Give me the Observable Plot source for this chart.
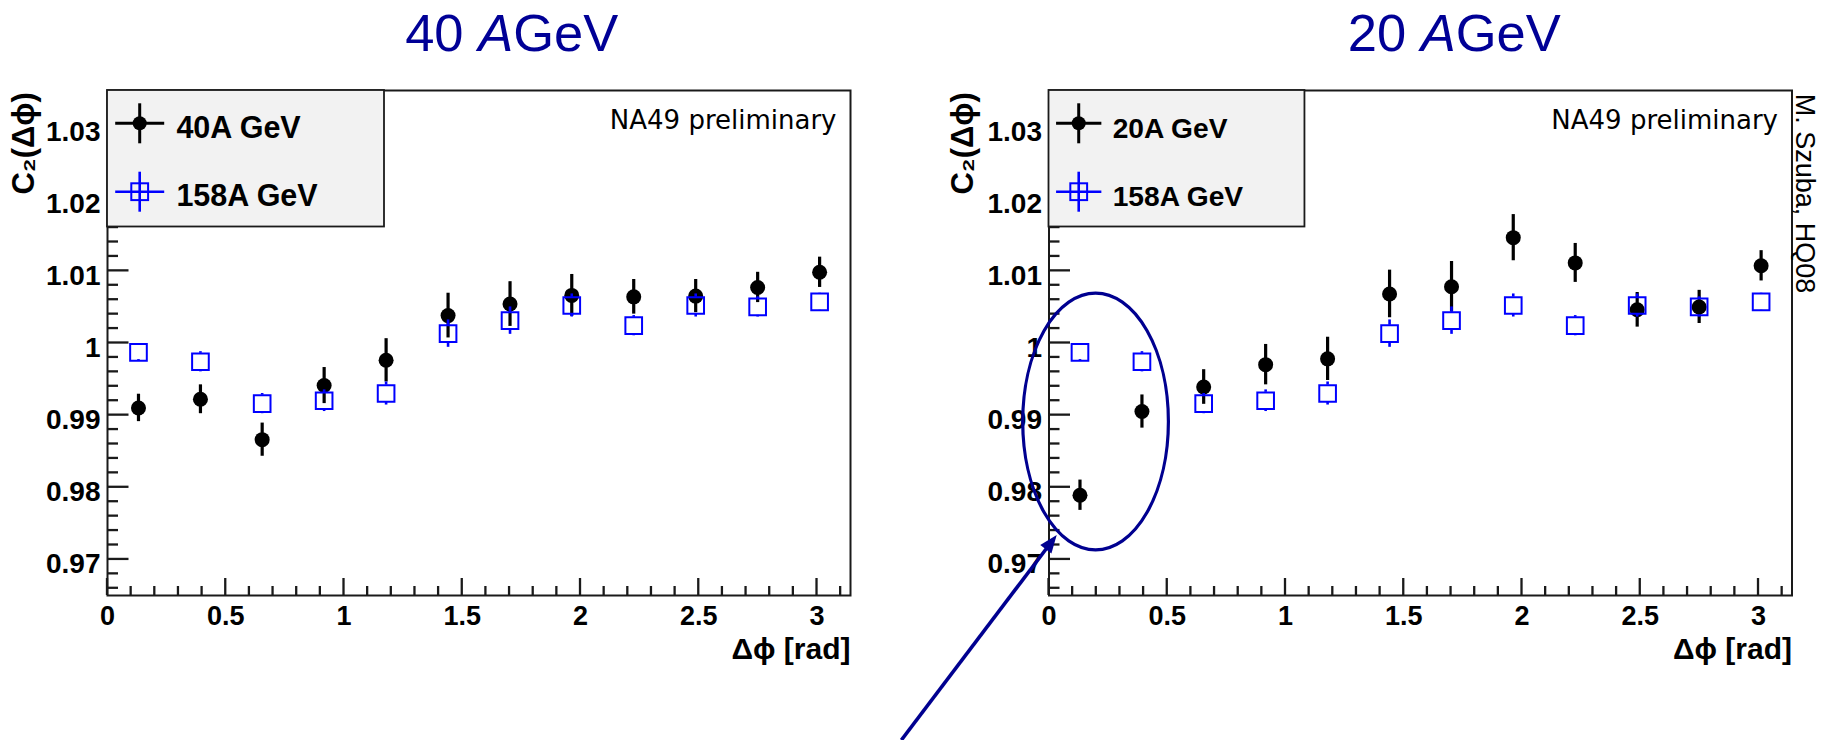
<!DOCTYPE html>
<html><head><meta charset="utf-8">
<script src="https://cdn.jsdelivr.net/npm/d3@7"></script>
<script src="https://cdn.jsdelivr.net/npm/@observablehq/plot@0.6"></script>
<style>
html,body{margin:0;padding:0;background:#fff;}
#wrap{position:relative;width:1824px;height:740px;overflow:hidden;background:#fff;}
.panel{position:absolute;top:0;width:912px;height:740px;}
.panel svg{max-width:none !important;}
.title{position:absolute;top:7.3px;font-family:'Liberation Sans',Arial,sans-serif;font-size:52.5px;line-height:1;color:#000096;white-space:nowrap;transform:translateX(-50%);}
</style></head>
<body><div id="wrap"></div>
<script>
// ---- data ----
const dphi = [0.131, 0.393, 0.654, 0.916, 1.178, 1.440, 1.702, 1.963, 2.225, 2.487, 2.749, 3.011];
const c2_40  = [0.9910, 0.9922, 0.9866, 0.9941, 0.9976, 1.0038, 1.0054, 1.0066, 1.0064, 1.0065, 1.0077, 1.0098];
const err_40 = [0.0019, 0.0020, 0.0023, 0.0025, 0.0030, 0.0031, 0.0031, 0.0029, 0.0024, 0.0023, 0.0021, 0.0021];
const c2_20  = [0.9789, 0.9905, 0.9939, 0.9970, 0.9978, 1.0068, 1.0078, 1.0146, 1.0111, 1.0046, 1.0050, 1.0107];
const err_20 = [0.0021, 0.0023, 0.0024, 0.0028, 0.0030, 0.0033, 0.0035, 0.0032, 0.0027, 0.0024, 0.0023, 0.0021];
const c2_158  = [0.9987, 0.9974, 0.9916, 0.9920, 0.9930, 1.0013, 1.0031, 1.0052, 1.0024, 1.0052, 1.0050, 1.0057];
const err_158 = [0.0010, 0.0014, 0.0014, 0.0015, 0.0016, 0.0019, 0.0019, 0.0016, 0.0014, 0.0016, 0.0014, 0.0012];

const yTickValues = [0.97, 0.98, 0.99, 1.00, 1.01, 1.02, 1.03];
const yTickLabels = ["0.97", "0.98", "0.99", "1", "1.01", "1.02", "1.03"];
const yMinorTicks = [0.966,0.968,0.972,0.974,0.976,0.978,0.982,0.984,0.986,0.988,0.992,0.994,0.996,0.998,1.002,1.004,1.006,1.008,1.012,1.014,1.016,1.018,1.022,1.024,1.026,1.028,1.032,1.034];
const xTickValues = [0, 0.5, 1, 1.5, 2, 2.5, 3];
const xTickLabels = ["0", "0.5", "1", "1.5", "2", "2.5", "3"];
const xMinorTicks = [0.1,0.2,0.3,0.4,0.6,0.7,0.8,0.9,1.1,1.2,1.3,1.4,1.6,1.7,1.8,1.9,2.1,2.2,2.3,2.4,2.6,2.7,2.8,2.9,3.1];

const panelTitles = ["40", "20"];
const legendLeft  = ["40A GeV", "158A GeV"];
const legendRight = ["20A GeV", "158A GeV"];
const yLabel = "C\u2082(\u0394\u03d5)";
const xLabel = "\u0394\u03d5 [rad]";
const stampText = "NA49 preliminary";
const authorText = "M. Szuba, HQ08";

// annotation (data units of the right panel)
const ellipseAnnot = {x: 0.199, y: 0.98905, rx: 0.308, ry: 0.0178};
const arrowAnnot = {x1: -0.622, y1: 0.9449, x2: 0.0347, y2: 0.97332};

const BLUE = "#0000ff";
const NAVY = "#000090";
const AXIS = "#1a1a1a";
const FONT = "'Liberation Sans', Arial, Helvetica, sans-serif";
const W = 912, H = 740, MT = 90, MB = 145;

function buildPanel(o) {
  const data = dphi.map((x, i) => ({x, y: o.vals[i], e: o.errs[i]}));
  const ref = dphi.map((x, i) => ({x, y: c2_158[i], e: err_158[i]}));
  const marks = [
    Plot.frame({stroke: AXIS, strokeWidth: 2}),
    Plot.axisY(yTickValues, {tickSize: 0, tickPadding: 7, dy: 5, fontSize: 28, fontWeight: "bold", fill: "black",
      tickFormat: d => yTickLabels[yTickValues.indexOf(d)], label: null}),
    Plot.axisX(xTickValues, {tickSize: 0, tickPadding: 10, fontSize: 27, fontWeight: "bold", fill: "black",
      tickFormat: d => xTickLabels[xTickValues.indexOf(d)], label: null}),
    Plot.ruleX(data, {x: "x", y1: d => d.y + d.e, y2: d => d.y - d.e, stroke: "black", strokeWidth: 3.2}),
    Plot.dot(data, {x: "x", y: "y", r: 7.5, fill: "black", stroke: "none"}),
    Plot.ruleX(ref, {x: "x", y1: d => d.y + d.e, y2: "y", insetBottom: 8.4, stroke: BLUE, strokeWidth: 2.6}),
    Plot.ruleX(ref, {x: "x", y1: "y", y2: d => d.y - d.e, insetTop: 8.4, stroke: BLUE, strokeWidth: 2.6}),
    Plot.dot(ref, {x: "x", y: "y", symbol: "square", r: 9.4, stroke: BLUE, strokeWidth: 2, fill: "none"}),
    Plot.text([stampText], {text: d => d, frameAnchor: "top-right", textAnchor: "end", lineAnchor: "bottom",
      dx: -14, dy: 38.3, fontSize: 26, fontFamily: "'DejaVu Sans', sans-serif", fill: "black"}),
    Plot.text([yLabel], {text: d => d, frameAnchor: "top-left", rotate: -90, textAnchor: "end", lineAnchor: "bottom",
      dx: o.yLabelDx, dy: 1.7, fontSize: 31, fontWeight: "bold", fill: "black"}),
    Plot.text([xLabel], {text: d => d, frameAnchor: "bottom-right", textAnchor: "end", lineAnchor: "bottom",
      dx: 0, dy: 63.7, fontSize: 30, fontWeight: "bold", fill: "black"})
  ];
  if (o.author) {
    marks.push(Plot.text([authorText], {text: d => d, frameAnchor: "top-right", rotate: 90, textAnchor: "start", lineAnchor: "bottom",
      dx: 3.5, dy: 3.3, fontSize: 27, fill: "black"}));
  }
  const plot = Plot.plot({
    width: W, height: H,
    marginLeft: o.marginLeft, marginRight: o.marginRight, marginTop: MT, marginBottom: MB,
    x: {domain: [0, Math.PI]},
    y: {domain: [0.965, 1.035]},
    style: {background: "transparent", overflow: "visible", fontFamily: FONT, fontSize: "28px", color: "black"},
    marks
  });

  const svg = d3.select(plot);
  const xs = plot.scale("x"), ys = plot.scale("y");
  const fl = xs.apply(0), fb = ys.apply(0.965);

  // inward-pointing ROOT-style ticks, placed through the plot's own scales
  const tg = svg.append("g").attr("class", "ticks").attr("stroke", AXIS).attr("stroke-width", 2.3);
  const addY = (vals, len) => vals.forEach(v => {
    const y = ys.apply(v);
    tg.append("line").attr("x1", fl).attr("x2", fl + len).attr("y1", y).attr("y2", y);
  });
  const addX = (vals, len) => vals.forEach(v => {
    const x = xs.apply(v);
    tg.append("line").attr("x1", x).attr("x2", x).attr("y1", fb).attr("y2", fb - len);
  });
  addY(yMinorTicks, 11); addY(yTickValues, 21.5);
  addX(xMinorTicks, 9); addX(xTickValues, 17);

  // legend box (drawn on top like the ROOT TLegend)
  const s = o.legendScale;
  const g = svg.append("g").attr("class", "legend");
  const x0 = o.marginLeft;
  g.append("rect").attr("x", x0).attr("y", MT).attr("width", 277 * s).attr("height", 136.5)
    .attr("fill", "#f2f2f2").attr("stroke", AXIS).attr("stroke-width", 1.8);
  const cx = x0 + 32.7 * s, tx = x0 + 69.4 * s;
  const rows = [123.3, 191.7], base = [138.3, 205.7];
  g.append("line").attr("x1", cx - 24.5 * s).attr("x2", cx + 24.5 * s).attr("y1", rows[0]).attr("y2", rows[0]).attr("stroke", "black").attr("stroke-width", 3);
  g.append("line").attr("x1", cx).attr("x2", cx).attr("y1", rows[0] - 20).attr("y2", rows[0] + 20).attr("stroke", "black").attr("stroke-width", 3);
  g.append("circle").attr("cx", cx).attr("cy", rows[0]).attr("r", 7).attr("fill", "black");
  g.append("line").attr("x1", cx - 24.5 * s).attr("x2", cx + 24.5 * s).attr("y1", rows[1]).attr("y2", rows[1]).attr("stroke", BLUE).attr("stroke-width", 2.6);
  g.append("line").attr("x1", cx).attr("x2", cx).attr("y1", rows[1] - 20).attr("y2", rows[1] + 20).attr("stroke", BLUE).attr("stroke-width", 2.6);
  g.append("rect").attr("x", cx - 8.4).attr("y", rows[1] - 8.4).attr("width", 16.8).attr("height", 16.8).attr("fill", "none").attr("stroke", BLUE).attr("stroke-width", 2);
  o.legend.forEach((t, i) => {
    g.append("text").attr("x", tx).attr("y", base[i]).attr("text-anchor", "start")
      .attr("font-size", 30.5 * s).attr("font-weight", "bold")
      .attr("font-family", FONT).attr("fill", "black").text(t);
  });

  if (o.annotate) {
    const ecx = xs.apply(ellipseAnnot.x), ecy = ys.apply(ellipseAnnot.y);
    const erx = xs.apply(ellipseAnnot.x + ellipseAnnot.rx) - ecx;
    const ery = ecy - ys.apply(ellipseAnnot.y + ellipseAnnot.ry);
    const a = svg.append("g").attr("class", "annotation");
    a.append("ellipse").attr("cx", ecx).attr("cy", ecy).attr("rx", erx).attr("ry", ery)
      .attr("fill", "none").attr("stroke", NAVY).attr("stroke-width", 3.2);
    const ax1 = xs.apply(arrowAnnot.x1), ay1 = ys.apply(arrowAnnot.y1);
    const ax2 = xs.apply(arrowAnnot.x2), ay2 = ys.apply(arrowAnnot.y2);
    const dx = ax2 - ax1, dy = ay2 - ay1, L = Math.hypot(dx, dy);
    const ux = dx / L, uy = dy / L, nx = -uy, ny = ux;
    const hl = 18, hw = 7;
    const bx = ax2 - ux * hl, by = ay2 - uy * hl;
    a.append("line").attr("x1", ax1).attr("y1", ay1).attr("x2", bx + ux * 2).attr("y2", by + uy * 2)
      .attr("stroke", NAVY).attr("stroke-width", 3.6);
    a.append("polygon").attr("points", [[ax2, ay2], [bx + nx * hw, by + ny * hw], [bx - nx * hw, by - ny * hw]].map(p => p.join(",")).join(" "))
      .attr("fill", NAVY);
  }
  return plot;
}

const wrap = document.getElementById("wrap");
const panels = [
  {left: 0, vals: c2_40, errs: err_40, marginLeft: 107, marginRight: 62, legend: legendLeft, legendScale: 1, yLabelDx: -73.7, author: false, annotate: false},
  {left: 912, vals: c2_20, errs: err_20, marginLeft: 136.5, marginRight: 32.5, legend: legendRight, legendScale: 0.924, yLabelDx: -76, author: true, annotate: true}
];
panels.forEach(p => {
  const div = document.createElement("div");
  div.className = "panel";
  div.style.left = p.left + "px";
  div.appendChild(buildPanel(p));
  wrap.appendChild(div);
});
[[511.7, panelTitles[0]], [1454.3, panelTitles[1]]].forEach(([cx, t]) => {
  const d = document.createElement("div");
  d.className = "title";
  d.style.left = cx + "px";
  d.innerHTML = t + " <i>A</i>GeV";
  wrap.appendChild(d);
});
</script>
</body></html>
